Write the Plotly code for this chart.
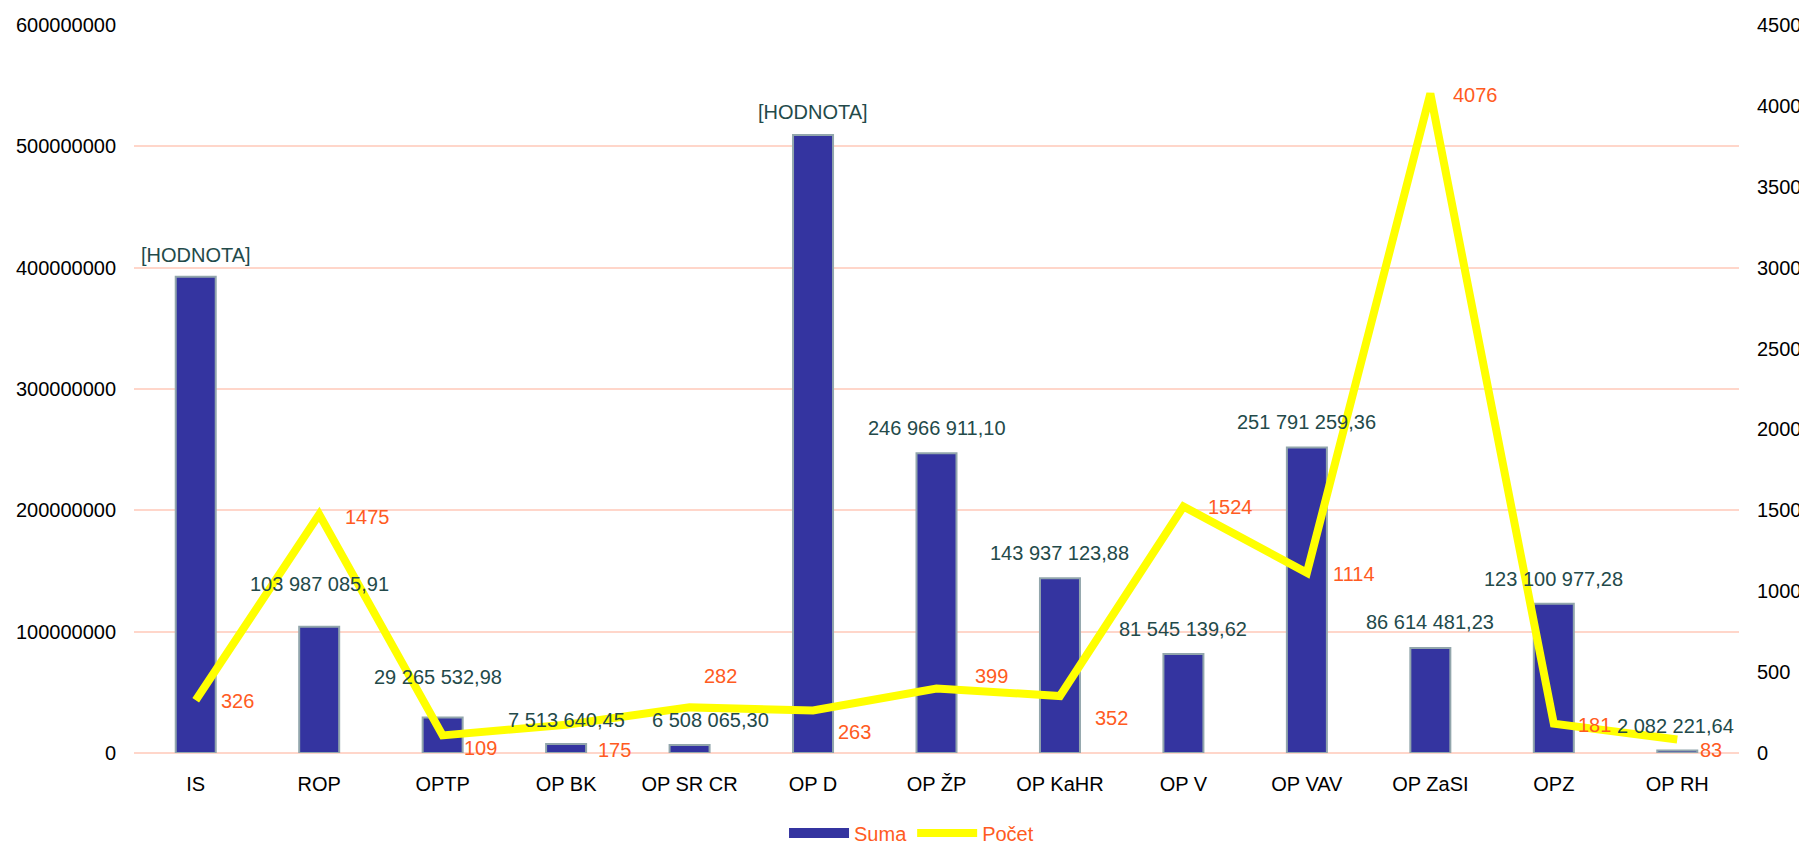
import plotly.graph_objects as go

categories = ["IS", "ROP", "OPTP", "OP BK", "OP SR CR", "OP D", "OP ŽP", "OP KaHR",
              "OP V", "OP VAV", "OP ZaSI", "OPZ", "OP RH"]
suma = [392500000, 103987085.91, 29265532.98, 7513640.45, 6508065.30, 509300000,
        246966911.10, 143937123.88, 81545139.62, 251791259.36, 86614481.23,
        123100977.28, 2082221.64]
suma_placeholder = [True, False, False, False, False, True, False, False, False,
                    False, False, False, False]
pocet = [326, 1475, 109, 175, 282, 263, 399, 352, 1524, 1114, 4076, 181, 83]

# label offsets in pixels (layout only)
suma_label_dx = [0, 0, -5, 0, 21, 0, 0, 0, 0, 0, 0, 0, -2]
suma_label_dy = [22, 43, 40, 24, 25, 23, 25, 25, 25, 25, 26, 25, 24]
pocet_label_dx = [23, 24, 19, 30, 12, 23, 36, 33, 23, 24, 21, 22, 21]
pocet_label_dy = [-1, -3, -13, -25, 31, -22, 12, -22, -1, -1, -1, -1, -10]

def fmt(v):
    return f"{v:,.2f}".replace(",", " ").replace(".", ",")

suma_text = ["[HODNOTA]" if p else fmt(v) for v, p in zip(suma, suma_placeholder)]

FONT = "Liberation Sans, Arial, sans-serif"
FS = 20
LABEL_DARK = "#234a4a"
ORANGE = "#ff5b22"
GRID = "#ffd6ca"
BAR = "#3434a0"

fig = go.Figure()
fig.add_trace(go.Bar(
    x=categories, y=suma, name="Suma", showlegend=False,
    marker=dict(color=BAR, line=dict(color="#92a6ac", width=2)),
))
fig.add_trace(go.Scatter(
    x=[categories[0]], y=[None], name="Suma", mode="lines",
    line=dict(color=BAR, width=14), showlegend=True, hoverinfo="skip",
))
fig.add_trace(go.Scatter(
    x=categories, y=pocet, name="Počet", yaxis="y2", mode="lines",
    line=dict(color="#ffff00", width=8),
))

annotations = []
for c, v, t, dx, dy in zip(categories, suma, suma_text, suma_label_dx, suma_label_dy):
    annotations.append(dict(
        x=c, y=v, xref="x", yref="y", text=t, showarrow=False,
        xanchor="center", yanchor="middle", xshift=dx, yshift=dy,
        font=dict(family=FONT, size=FS, color=LABEL_DARK),
    ))
for c, v, dx, dy in zip(categories, pocet, pocet_label_dx, pocet_label_dy):
    annotations.append(dict(
        x=c, y=v, xref="x", yref="y2", text=str(v), showarrow=False,
        xanchor="left", yanchor="middle", xshift=dx, yshift=dy,
        font=dict(family=FONT, size=FS, color=ORANGE),
    ))

# the page body adds an 8px offset, so margins are shifted by 8px
fig.update_layout(
    width=1807, height=844,
    margin=dict(l=126, r=76, t=17, b=99, autoexpand=False),
    paper_bgcolor="white", plot_bgcolor="white",
    font=dict(family=FONT, size=FS, color="black"),
    bargap=0.676,
    showlegend=True,
    annotations=annotations,
    legend=dict(orientation="h", x=0.405, xanchor="left", y=-0.11, yanchor="middle",
                font=dict(family=FONT, size=FS, color=ORANGE), itemwidth=60,
                traceorder="normal", bgcolor="rgba(0,0,0,0)"),
    xaxis=dict(range=[-0.5, 12.5], showgrid=False, showline=False, ticks="",
               ticklabelstandoff=17, automargin=False,
               tickfont=dict(family=FONT, size=FS, color="black")),
    yaxis=dict(range=[0, 600000000], dtick=100000000, tickformat="d",
               showgrid=True, gridcolor=GRID, gridwidth=1.5,
               zeroline=True, zerolinecolor=GRID, zerolinewidth=1.5,
               showline=False, ticks="", ticklabelstandoff=17, automargin=False,
               tickfont=dict(family=FONT, size=FS, color="black")),
    yaxis2=dict(range=[0, 4500], dtick=500, overlaying="y", side="right",
                showgrid=False, zeroline=False, showline=False, ticks="",
                ticklabelstandoff=17, automargin=False,
                tickfont=dict(family=FONT, size=FS, color="black")),
)

fig.write_html("out.html")
